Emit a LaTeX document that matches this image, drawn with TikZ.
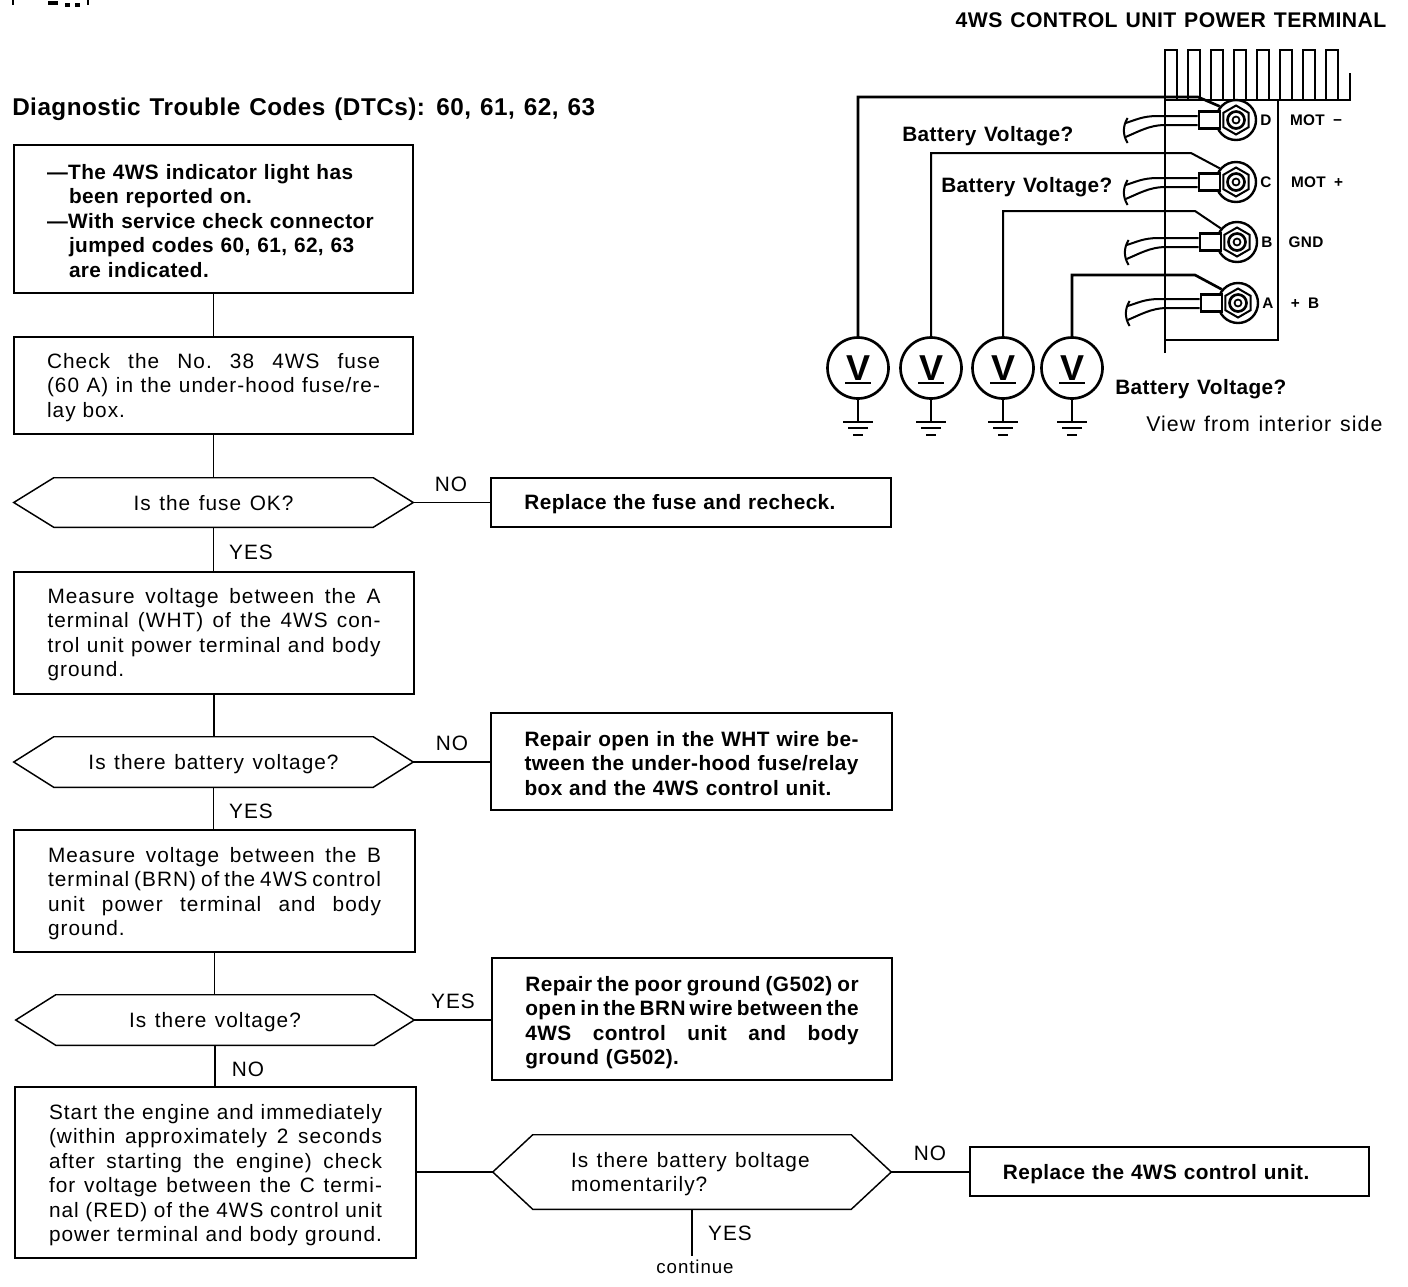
\documentclass[tikz,border=0pt]{standalone}
\usepackage{fontspec}
\setmainfont{Liberation Sans}[LetterSpace=5,BoldFeatures={LetterSpace=2},WordSpace=1.25]
\usetikzlibrary{calc,shapes.geometric}
\newcommand\jl[1]{\leavevmode\hbox to \hsize{\spaceskip=.2em plus 1fil\xspaceskip=\spaceskip #1}}
\newcommand\hexa[1]{\draw[ln,line join=miter] (#1.west) -- ($(#1.north west)+(40,0)$) -- ($(#1.north east)+(-40,0)$) -- (#1.east) -- ($(#1.south east)+(-40,0)$) -- ($(#1.south west)+(40,0)$) -- cycle;}
\newcommand\hextext[1]{\raisebox{-5.8pt}[0pt][0pt]{#1}}
\newcommand\wireend[1]{\draw[wire] ($(#1)+(0,-4)$) -- ++(-40,0) .. controls +(-15,0) and +(10,-3) .. ++(-32,7);
 \draw[wire] ($(#1)+(0,5)$) -- ++(-33,0) .. controls +(-15,0) and +(12,-5) .. ++(-39,12);
 \draw[wire] ($(#1)+(-70,-2)$) .. controls +(-5,8) and +(-5,-8) .. ++(0,25);}
\newcommand\gnd[1]{\draw[thick wire] (#1.south) -- ++(0,22) coordinate (g);
 \draw[thick wire] ($(g)+(-15,0)$) -- ($(g)+(15,0)$);
 \draw[wire] ($(g)+(-10,6.5)$) -- ($(g)+(10,6.5)$);
 \draw[thick wire] ($(g)+(-5,13)$) -- ($(g)+(5,13)$);}
\tikzset{x=0.75pt,y=-0.75pt,
 ln/.style={line width=1.1pt,black},
 wire/.style={line width=1.5pt,black},
 thick wire/.style={line width=2pt,black},
 first/.style={execute at begin node={\rule{0pt}{#1}}},
 boxn/.style n args={3}{draw,ln,rectangle,inner sep=0pt,minimum width=#1*0.75pt,minimum height=#2*0.75pt,text width=#3,align=left,font=\fs,first=14pt},
 hexn/.style 2 args={rectangle,inner sep=0pt,minimum width=#1*0.75pt,minimum height=#2*0.75pt,align=left,font=\fs},
 lab/.style={inner sep=0pt,font=\fs},
 blab/.style={inner sep=0pt,font=\fb},
 small/.style={inner sep=0pt,font=\fss},
 meter/.style={circle,draw,line width=2pt,minimum size=61*0.75pt,inner sep=0pt,font=\fontsize{27}{27}\selectfont\bfseries},
 term/.style={circle,draw,line width=1.8pt,fill=white,minimum size=40*0.75pt,inner sep=0pt},
 lug/.style={rectangle,draw,line width=1.8pt,fill=white,minimum width=21*0.75pt,minimum height=17*0.75pt,inner sep=0pt},
}
\newcommand\fs{\fontsize{15.6}{18.4}\selectfont}
\newcommand\fb{\fontsize{15.6}{18.4}\selectfont\bfseries}
\newcommand\fss{\fontsize{11.5}{13}\selectfont\bfseries}
\begin{document}
\begin{tikzpicture}
\useasboundingbox (0,0) rectangle (1408,1286);
% clipped fragments at the top edge
\draw[wire] (13,0) -- (13,5) (88,0) -- (88,5);
\draw[line width=3pt] (48,3) -- (58,3) (65,5) -- (70,5) (75,5) -- (80,5);
% left flow chart
\node[anchor=west,blab,font=\fontsize{18.2}{20}\selectfont\bfseries] (title) at (12,109) {Diagnostic Trouble Codes (DTCs): 60, 61, 62, 63};
\node[boxn={399}{148}{249.75pt},font=\fb] (b1) at (213.5,219) {—The 4WS indicator light has\\\hspace*{16.5pt}been reported on.\\—With service check connector\\\hspace*{16.5pt}jumped codes 60, 61, 62, 63\\\hspace*{16.5pt}are indicated.};
\node[boxn={399}{97}{249.75pt}] (b2) at (213.5,385.5) {\jl{Check the No. 38 4WS fuse}\\\jl{(60 A) in the under-hood fuse/re-}\\lay box.};
\node[hexn={399}{49}] (h1) at (213.5,502.5) {\hextext{Is the fuse OK?}};
\node[boxn={400}{49}{250pt},font=\fb] (b3) at (691,502.5) {Replace the fuse and recheck.};
\node[boxn={400}{122}{249.75pt}] (b4) at (214,633) {\jl{Measure voltage between the A}\\\jl{terminal (WHT) of the 4WS con-}\\\jl{trol unit power terminal and body}\\ground.};
\node[hexn={399}{50}] (h2) at (213.5,762) {\hextext{Is there battery voltage?}};
\node[boxn={401}{97}{250.5pt},font=\fb,first=12.5pt] (b5) at (691.5,761.5) {\jl{Repair open in the WHT wire be-}\\\jl{tween the under-hood fuse/relay}\\box and the 4WS control unit.};
\node[boxn={401}{122}{249.75pt},first=15pt] (b6) at (214.5,891) {\jl{Measure voltage between the B}\\\jl{terminal (BRN) of the 4WS control}\\\jl{unit power terminal and body}\\ground.};
\node[hexn={398}{50}] (h3) at (215,1020) {\hextext{Is there voltage?}};
\node[boxn={400}{122}{250pt},font=\fb,first=17pt] (b7) at (692,1019) {\jl{Repair the poor ground (G502) or}\\\jl{open in the BRN wire between the}\\\jl{4WS control unit and body}\\ground (G502).};
\node[boxn={401}{171}{249.75pt},first=15pt] (b8) at (215.5,1172.5) {\jl{Start the engine and immediately}\\\jl{(within approximately 2 seconds}\\\jl{after starting the engine) check}\\\jl{for voltage between the C termi-}\\\jl{nal (RED) of the 4WS control unit}\\\jl{power terminal and body ground.}};
\node[hexn={398}{74}] (h4) at (692,1172) {\raisebox{-5pt}[0pt][0pt]{\parbox{181.5pt}{Is there battery boltage\\momentarily?}}};
\node[boxn={399}{49}{250pt},font=\fb,first=15pt] (b9) at (1169.5,1171.5) {Replace the 4WS control unit.};
\hexa{h1}\hexa{h2}\hexa{h3}\hexa{h4}
\node[lab,font=\fontsize{14}{16}\selectfont,inner ysep=3pt] (cont) at (695,1267) {continue};
\node[lab] (n1) at (451,484) {NO};
\node[lab] (y1) at (251,552) {YES};
\node[lab] (n2) at (452,743) {NO};
\node[lab] (y2) at (251,811) {YES};
\node[lab] (y3) at (453,1001) {YES};
\node[lab] (n3) at (248,1069) {NO};
\node[lab] (n4) at (930,1153) {NO};
\node[lab] (y4) at (730,1233) {YES};
\draw[ln] (b1.south) -- (b1.south |- b2.north);
\draw[ln] (b2.south) -- (b2.south |- h1.north);
\draw[ln] (h1.east) -- (b3.west |- h1.east);
\draw[ln] (h1.south) -- (h1.south |- b4.north);
\draw[ln] (b4.south) -- (b4.south |- h2.north);
\draw[ln] (h2.east) -- (b5.west |- h2.east);
\draw[ln] (h2.south) -- (h2.south |- b6.north);
\draw[ln] (b6.south) -- (b6.south |- h3.north);
\draw[ln] (h3.east) -- (b7.west |- h3.east);
\draw[ln] (h3.south) -- (h3.south |- b8.north);
\draw[ln] (b8.east |- h4.west) -- (h4.west);
\draw[ln] (h4.east) -- (b9.west |- h4.east);
\draw[ln] (h4.south) -- (cont.north -| h4.south);
% terminal title
\node[blab,font=\fontsize{15.9}{17}\selectfont\bfseries] (t2) at (1171,20) {4WS CONTROL UNIT POWER TERMINAL};
% heat sink and housing
\draw[wire,line join=miter] (1165,353) -- (1165,50)
 \foreach \i in {0,...,6} { -- ({1165+\i*23},50) -- ({1177.4+\i*23},50) -- ({1177.4+\i*23},100) -- ({1188+\i*23},100) -- ({1188+\i*23},50) }
 -- (1326,50) -- (1338.4,50) -- (1338.4,100) -- (1350,100) -- (1350,73);
\draw[thick wire] (1165,100) -- (1351,100);
\draw[wire] (1278,100) -- (1278,340) -- (1165,340);
% terminals
\foreach \n/\x/\y/\L/\LL/\lx in {D/1236/120/D/{MOT \,−}/1316,C/1236/182/C/{MOT \,+}/1317,B/1237/242/B/GND/1306,A/1238/303/A/{+ \,B}/1305}{
 \node[term] (t\n) at (\x,\y) {};
 \node[lug,anchor=east] (l\n) at (\x-15,\y) {};
 \wireend{l\n.west}
 \node[regular polygon,regular polygon sides=6,shape border rotate=30,draw,line width=1.5pt,minimum size=29*0.75pt,inner sep=0pt] (p\n) at (t\n) {};
 \node[circle,draw,line width=2pt,minimum size=17*0.75pt,inner sep=0pt] (q\n) at (t\n) {};
 \node[circle,draw,line width=1.3pt,minimum size=7*0.75pt,inner sep=0pt] (r\n) at (t\n) {};
 \node[small] (L\n) at (\x+30,\y) {\L};
 \node[small] (M\n) at (\lx,\y) {\LL};
}
% meters
\node[meter] (m1) at (858,368) {V};
\node[meter] (m2) at (931,368) {V};
\node[meter] (m3) at (1003,368) {V};
\node[meter] (m4) at (1072,368) {V};
\foreach \m in {m1,m2,m3,m4}{
 \draw[thick wire] ($(\m)+(-13,15)$) -- ($(\m)+(13,15)$);
 \gnd{\m}
}
\coordinate (kd) at (1198,97);
\coordinate (kc) at (1191,153);
\coordinate (kb) at (1195,211);
\coordinate (ka) at (1195,275);
\draw[thick wire] (m1.north) |- (kd) -- (tD.140);
\draw[wire] (m2.north) |- (kc) -- (tC.140);
\draw[wire] (m3.north) |- (kb) -- (tB.140);
\draw[thick wire] (m4.north) |- (ka) -- (tA.140);
\node[blab,anchor=west] (bv1) at (902,136) {Battery Voltage?};
\node[blab,anchor=west] (bv2) at (941,187) {Battery Voltage?};
\node[blab,anchor=west] (bv3) at (1115,389) {Battery Voltage?};
\node[lab,anchor=west,font=\fontsize{16}{18}\selectfont] (view) at (1146,424) {View from interior side};
\end{tikzpicture}
\end{document}
